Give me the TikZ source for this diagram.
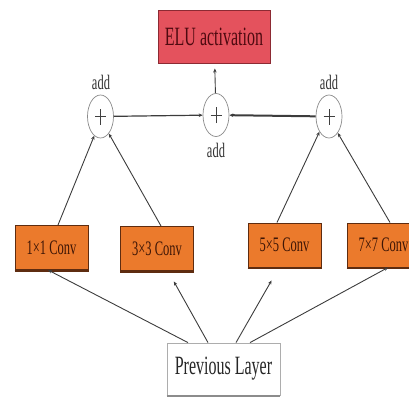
\documentclass[tikz,border=0pt]{standalone}
\usepackage{fontspec}
\setmainfont{Liberation Serif}
\usetikzlibrary{arrows.meta,shapes.geometric}
\definecolor{elufill}{HTML}{E4525D}
\definecolor{eluedge}{HTML}{8C2A33}
\definecolor{elutext}{HTML}{4E0A10}
\definecolor{convfill}{HTML}{EB7A2C}
\definecolor{convedge}{HTML}{5E2C10}
\definecolor{convtext}{HTML}{3E1606}
\definecolor{wire}{HTML}{3C3C3C}
\definecolor{ringedge}{HTML}{8A8A8A}
% text in this figure is set tall and narrow
\newcommand{\tallt}[1]{\scalebox{1}[1.65]{#1}}
\tikzset{
  elubox/.style={draw=eluedge, line width=1pt, fill=elufill, text=elutext,
    minimum width=112pt, minimum height=53pt, inner sep=0pt,
    font=\fontsize{16}{16}\selectfont},
  convbox/.style={draw=convedge, line width=1pt, fill=convfill, text=convtext,
    minimum width=73pt, minimum height=44pt, inner sep=0pt,
    font=\fontsize{12.5}{12.5}\selectfont},
  prevbox/.style={draw=ringedge!70, line width=0.8pt, fill=white, text=black!85,
    minimum width=113pt, minimum height=52pt, inner sep=0pt,
    font=\fontsize{16}{16}\selectfont},
  sumnode/.style={ellipse, draw=ringedge, line width=0.7pt, fill=white,
    minimum width=26pt, minimum height=43pt, inner sep=0pt},
  addlabel/.style={text=black!80, inner sep=0pt, font=\fontsize{12.5}{12.5}\selectfont},
  wirearrow/.style={draw=wire, line width=0.9pt, -{Stealth[length=4pt,width=3.5pt]}},
  plusmark/.style={draw=black!75, line width=0.8pt}
}
\begin{document}
\begin{tikzpicture}[x=1pt,y=-1pt]
\useasboundingbox (0,0) rectangle (409,399);
\clip (0,0) rectangle (409,399);

% output activation
\node[elubox] (elu) at (214,36.5) {\tallt{ELU activation}};

% summation points
\node[sumnode] (s1) at (100.5,116.5) {};
\node[sumnode] (s2) at (216,115) {};
\node[sumnode] (s3) at (329,116.5) {};
\foreach \s in {s1,s2,s3}
  \draw[plusmark] ([xshift=-5.5pt]\s.center) -- ([xshift=5.5pt]\s.center)
                  ([yshift=-8pt]\s.center) -- ([yshift=8pt]\s.center);
\node[addlabel] (l1) at (101,82) {\tallt{add}};
\node[addlabel] (l2) at (216,150) {\tallt{add}};
\node[addlabel] (l3) at (329,82) {\tallt{add}};

% parallel convolution branches
\node[convbox] (c1) at (51.5,247.5) {\tallt{1\texttimes1 Conv}};
\node[convbox] (c3) at (157,248.5) {\tallt{3\texttimes3 Conv}};
\node[convbox] (c5) at (284.5,245) {\tallt{5\texttimes5 Conv}};
\node[convbox] (c7) at (383.5,245) {\tallt{7\texttimes7 Conv}};
\foreach \c in {c1,c3,c5,c7}
  \draw[convedge, line width=1.6pt] ([yshift=-0.8pt]\c.south west) -- ([yshift=-0.8pt]\c.south east);

% input
\node[prevbox] (prev) at (223.5,369) {\tallt{Previous Layer}};
\draw[black!45, line width=1.4pt] ([yshift=-0.7pt]prev.south west) -- ([yshift=-0.7pt]prev.south east);

% input to branches
\draw[wirearrow] ([xshift=-35.5pt]prev.north) -- ([xshift=-3.5pt]c1.south);
\draw[wirearrow, shorten >=12pt] ([xshift=-15.5pt]prev.north) -- ([xshift=11pt]c3.south);
\draw[wirearrow, shorten >=15pt] ([xshift=12.5pt]prev.north) -- ([xshift=-5.5pt]c5.south);
\draw[wirearrow] ([xshift=26.5pt]prev.north) -- ([xshift=4.5pt]c7.south);

% branches to summation points
\draw[wirearrow] ([xshift=6.5pt]c1.north) -- (s1.252);
\draw[wirearrow] ([xshift=4pt]c3.north) -- (s1.296);
\draw[wirearrow] ([xshift=-7.5pt]c5.north) -- (s3.238);
\draw[wirearrow] ([xshift=6.5pt]c7.north) -- (s3.298);

% merging the partial sums
\draw[wirearrow, line width=1.2pt] (s1) -- (s2);
\draw[wirearrow, line width=2pt] (s3) -- (s2);
\draw[wirearrow, shorten >=5pt] (s2) -- (elu);
\end{tikzpicture}
\end{document}
